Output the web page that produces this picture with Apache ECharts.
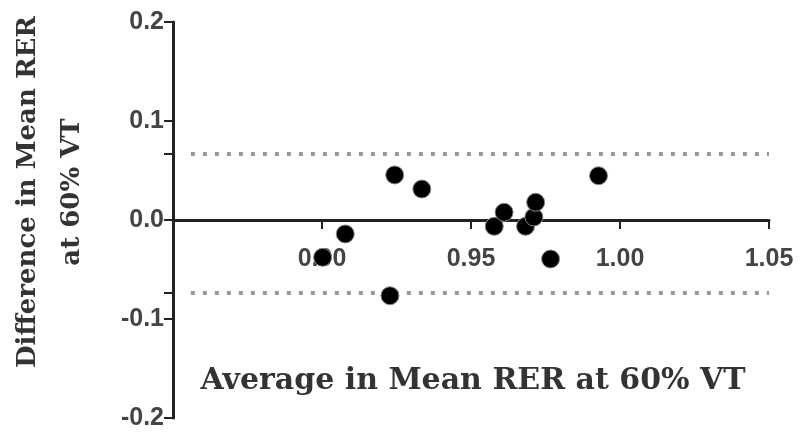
<!DOCTYPE html>
<html><head><meta charset="utf-8">
<script src="https://cdn.jsdelivr.net/npm/echarts@6/dist/echarts.min.js"></script>
<style>html,body{margin:0;padding:0;background:#fff}#c{width:800px;height:436px}</style>
</head><body><div id="c"></div>
<script>
// Data
const avgValues = [0.9244, 0.9335, 0.9078, 0.9002, 0.9228, 0.9578, 0.9611, 0.9683, 0.9711, 0.9717, 0.9767, 0.9928];
const diffValues = [0.0455, 0.0313, -0.0141, -0.0377, -0.0765, -0.0064, 0.0078, -0.0064, 0.0030, 0.0179, -0.0394, 0.0447];
const limitsOfAgreement = [0.067, -0.073];
const limitLineStartX = 0.856;
const xTickValues = [0.90, 0.95, 1.00, 1.05];
const yTickValues = [-0.2, -0.1, 0, 0.1, 0.2];
const xTitle = 'Average in Mean RER at 60% VT';
const yTitleLines = ['Difference in Mean RER', 'at 60% VT'];

const points = avgValues.map((x, i) => [x, diffValues[i]]);
const labelFont = {fontFamily: 'Liberation Sans, Arial, sans-serif', fontWeight: 'bold', fontSize: 25, color: '#444'};

const gridTop = 22, gridBottom = 18, chartH = 436;
const yMin = -0.2, yMax = 0.2;
const plotH = chartH - gridTop - gridBottom;
// offset that moves the label-only x axis up to y = 0
const zeroOffset = -(plotH * (0 - yMin) / (yMax - yMin));
// x tick length (9 px) expressed in y units
const tickLenY = 9 * (yMax - yMin) / plotH;

const limitLines = limitsOfAgreement.map(v => [{coord: [limitLineStartX, v]}, {coord: [1.05, v]}]);
const xTickMarks = xTickValues.map(v => [
  {coord: [v, 0], lineStyle: {type: 'solid', color: '#222', width: 2}},
  {coord: [v, -tickLenY]}
]);

const chart = echarts.init(document.getElementById('c'), null, {renderer: 'canvas'});
chart.setOption({
  animation: false,
  grid: {left: 173, right: 31, top: gridTop, bottom: gridBottom, containLabel: false, outerBoundsMode: 'none'},
  xAxis: [{
    type: 'value', min: 0.85, max: 1.05, interval: 0.05,
    splitLine: {show: false},
    axisLine: {onZero: true, lineStyle: {color: '#222', width: 3}},
    axisTick: {show: false},
    axisLabel: {show: false}
  }, {
    type: 'value', min: 0.85, max: 1.05, interval: 0.05,
    position: 'bottom', offset: zeroOffset,
    splitLine: {show: false},
    axisLine: {show: false, onZero: false},
    axisTick: {show: false},
    axisLabel: Object.assign({customValues: xTickValues, margin: 27, formatter: v => v.toFixed(2)}, labelFont)
  }],
  yAxis: {
    type: 'value', min: yMin, max: yMax, interval: 0.1,
    splitLine: {show: false},
    axisLine: {show: true, onZero: false, lineStyle: {color: '#222', width: 3}},
    axisTick: {show: true, customValues: yTickValues.concat(limitsOfAgreement), length: 9, lineStyle: {color: '#222', width: 2}},
    axisLabel: Object.assign({customValues: yTickValues, margin: 9, formatter: v => v.toFixed(1)}, labelFont)
  },
  graphic: [
    {type: 'text', x: 50, y: 192, rotation: Math.PI / 2,
     style: {text: yTitleLines.join('\n'), align: 'center', verticalAlign: 'middle', lineHeight: 44,
       font: 'bold 26px "DejaVu Serif", serif', fill: '#333'}},
    {type: 'text', x: 473, y: 381,
     style: {text: xTitle, align: 'center', verticalAlign: 'middle',
       font: 'bold 30px "DejaVu Serif", serif', fill: '#333'}}
  ],
  series: [{
    type: 'scatter', xAxisIndex: 0,
    data: points,
    symbol: 'circle', symbolSize: 18, z: 5,
    itemStyle: {color: '#000', opacity: 1, borderColor: '#888', borderWidth: 1},
    markLine: {
      silent: true, symbol: 'none', label: {show: false},
      lineStyle: {color: '#999', type: [4, 8], width: 4},
      data: limitLines.concat(xTickMarks)
    }
  }]
});
</script></body></html>
